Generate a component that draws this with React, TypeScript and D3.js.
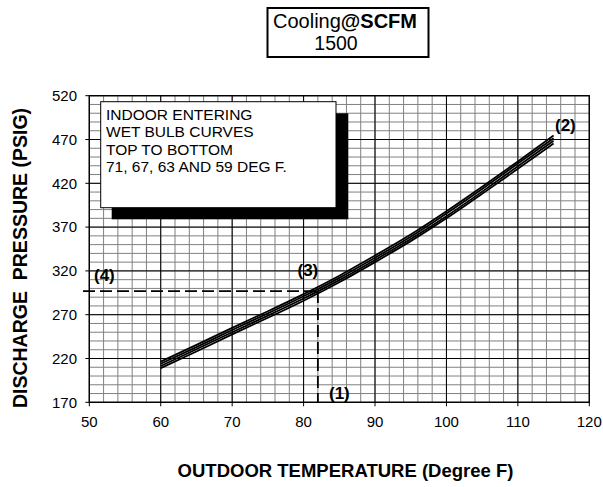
import React from "react";
import * as d3 from "d3";

// outdoor temp (F) vs discharge pressure (psig), one series per indoor wet bulb
const temps = [60, 65, 70, 75, 80, 85, 90, 95, 100, 105, 110, 115];
const wb71 = [216.5, 235.5, 255, 274, 293.5, 314.5, 337.5, 361.5, 388, 416, 445, 474.5];
const wb67 = [214, 233, 252.5, 271.5, 291, 312, 335, 359, 385.5, 413.5, 442.5, 471.5];
const wb63 = [211.5, 230.5, 250, 269, 288.5, 309.5, 332.5, 356.5, 382.5, 410.5, 439.5, 468.5];
const wb59 = [209, 228, 247.5, 266.5, 286, 307, 330, 354, 380, 408, 436.5, 465.5];

const xTicks = [50, 60, 70, 80, 90, 100, 110, 120];
const yTicks = [170, 220, 270, 320, 370, 420, 470, 520];

const legendLines = [
  "INDOOR ENTERING",
  "WET BULB CURVES",
  "TOP TO BOTTOM",
  "71, 67, 63 AND 59 DEG F.",
];

// example reading: (1) outdoor temp -> (3) on curve -> (4) pressure
const readTemp = 82;
const readPsig = 297;

const W = 603;
const H = 487;
const FONT = '"Liberation Sans", Arial, sans-serif';

export default function App() {
  const x = d3.scaleLinear().domain([50, 120]).range([89.3, 589.3]);
  const y = d3.scaleLinear().domain([170, 520]).range([402.3, 95.7]);

  const minorX = d3.range(50, 120.01, 2);
  const minorY = d3.range(170, 520.01, 10);

  const line = d3
    .line<[number, number]>()
    .x((d) => x(d[0]))
    .y((d) => y(d[1]))
    .curve(d3.curveNatural);

  const series = [wb71, wb67, wb63, wb59];

  return (
    <svg
      width={W}
      height={H}
      style={{ position: "absolute", left: 0, top: 0, background: "#fff" }}
      fontFamily={FONT}
    >
      {/* title box */}
      <rect x={267.5} y={8} width={161} height={49} fill="#fff" stroke="#000" strokeWidth={2} />
      <text x={273} y={27.5} fontSize={20}>
        Cooling<tspan fontWeight="bold">@SCFM</tspan>
      </text>
      <text x={336} y={50} fontSize={19.5} textAnchor="middle">
        1500
      </text>

      {/* minor grid */}
      {minorX.map((v) => (
        <line key={"mx" + v} x1={x(v)} x2={x(v)} y1={y(170)} y2={y(520)} stroke="#808080" strokeWidth={1} />
      ))}
      {minorY.map((v) => (
        <line key={"my" + v} x1={x(50)} x2={x(120)} y1={y(v)} y2={y(v)} stroke="#808080" strokeWidth={1} />
      ))}
      {/* major grid */}
      {xTicks.map((v) => (
        <line key={"gx" + v} x1={x(v)} x2={x(v)} y1={y(170)} y2={y(520)} stroke="#000" strokeWidth={1} />
      ))}
      {yTicks.map((v) => (
        <line key={"gy" + v} x1={x(50)} x2={x(120)} y1={y(v)} y2={y(v)} stroke="#000" strokeWidth={1} />
      ))}
      <rect x={x(50)} y={y(520)} width={x(120) - x(50)} height={y(170) - y(520)} fill="none" stroke="#000" strokeWidth={1.2} />

      {/* ticks + labels */}
      {xTicks.map((v) => (
        <g key={"tx" + v}>
          <line x1={x(v)} x2={x(v)} y1={y(170)} y2={y(170) + 4} stroke="#000" />
          <text x={x(v)} y={427} fontSize={15} textAnchor="middle">
            {v}
          </text>
        </g>
      ))}
      {yTicks.map((v) => (
        <g key={"ty" + v}>
          <line x1={x(50) - 4} x2={x(50)} y1={y(v)} y2={y(v)} stroke="#000" />
          <text x={77} y={y(v)} dy="0.35em" fontSize={15} textAnchor="end">
            {v}
          </text>
        </g>
      ))}

      {/* legend box with shadow */}
      <rect x={111.7} y={113.3} width={236.6} height={106} fill="#000" />
      <rect x={100.7} y={101.7} width={235.3} height={106} fill="#fff" stroke="#000" strokeWidth={1} />
      {legendLines.map((t, i) => (
        <text key={t} x={106} y={119.5 + i * 17.5} fontSize={15.5}>
          {t}
        </text>
      ))}

      {/* wet bulb curves */}
      {series.map((s, i) => (
        <path
          key={i}
          d={line(temps.map((t, j) => [t, s[j]] as [number, number])) || ""}
          fill="none"
          stroke="#000"
          strokeWidth={1.8}
        />
      ))}

      {/* reading lines */}
      <line x1={83} x2={x(readTemp)} y1={y(readPsig)} y2={y(readPsig)} stroke="#000" strokeWidth={1.8} strokeDasharray="12,5" />
      <line x1={x(readTemp)} x2={x(readTemp)} y1={y(readPsig)} y2={y(170)} stroke="#000" strokeWidth={1.8} strokeDasharray="12,5" />

      <g fontSize={17} fontWeight="bold">
        <text x={94} y={281}>(4)</text>
        <text x={297.5} y={276}>(3)</text>
        <text x={555} y={131}>(2)</text>
        <text x={329} y={399}>(1)</text>
      </g>

      {/* axis titles */}
      <text x={345.5} y={477} fontSize={18.5} fontWeight="bold" textAnchor="middle">
        OUTDOOR TEMPERATURE (Degree F)
      </text>
      <text
        transform="translate(26.5,258) rotate(-90)"
        fontSize={19.5}
        fontWeight="bold"
        textAnchor="middle"
        style={{ whiteSpace: "pre" }}
      >
        {"DISCHARGE  PRESSURE (PSIG)"}
      </text>
    </svg>
  );
}
